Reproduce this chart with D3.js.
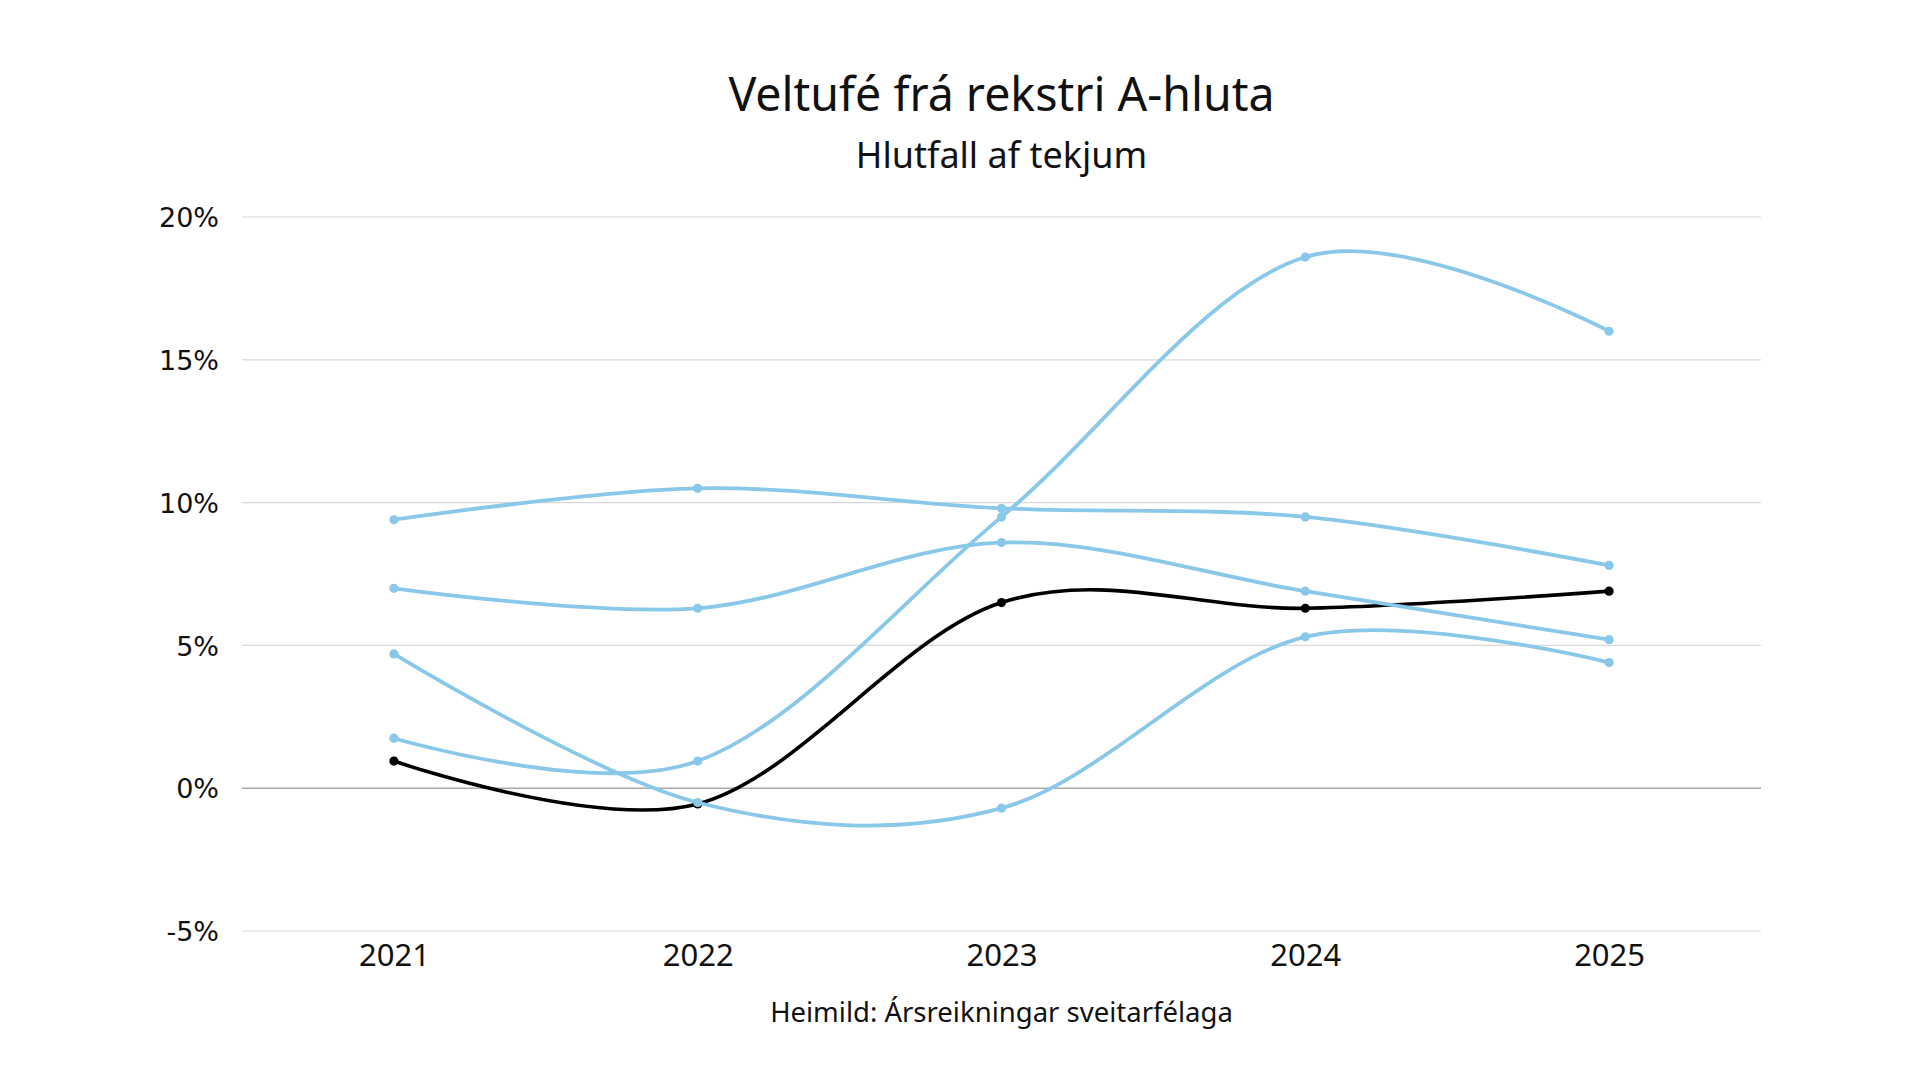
<!DOCTYPE html>
<html><head><meta charset="utf-8">
<script src="https://cdn.jsdelivr.net/npm/d3@7"></script>
<style>html,body{margin:0;padding:0;background:#fff;}</style>
</head><body>
<svg id="chart" width="1920" height="1080"></svg>
<script>
const years = ["2021","2022","2023","2024","2025"];
const yTicks = [-5, 0, 5, 10, 15, 20];
const seriesA = [9.4, 10.5, 9.8, 9.5, 7.8];
const seriesB = [7.0, 6.3, 8.6, 6.9, 5.2];
const seriesC = [4.7, -0.5, -0.7, 5.3, 4.4];
const seriesD = [1.75, 0.95, 9.5, 18.6, 16.0];
const seriesTotal = [0.95, -0.55, 6.5, 6.3, 6.9];
const title = "Veltufé frá rekstri A-hluta";
const subtitle = "Hlutfall af tekjum";
const source = "Heimild: Ársreikningar sveitarfélaga";

(function(){
const blue = "#89C8E9";
const font = "'Noto Sans', sans-serif";
const tickFont = "'DejaVu Sans', sans-serif";
const svg = d3.select("#chart");
const pL = 242, pR = 1761, pT = 217, pB = 931;

const x = d3.scalePoint().domain(years).range([pL, pR]).padding(0.5);
const y = d3.scaleLinear().domain([-5, 20]).range([pB, pT]);

svg.append("g").selectAll("line").data(yTicks).join("line")
  .attr("x1", pL).attr("x2", pR)
  .attr("y1", d => y(d)).attr("y2", d => y(d))
  .attr("stroke", d => d === 0 ? "#a9a9a9" : "#d9d9d9")
  .attr("stroke-width", d => d === 0 ? 1.5 : 1.2);

const yAxis = d3.axisLeft(y).tickValues(yTicks).tickFormat(d => d + "%").tickSize(0).tickPadding(0);
const gy = svg.append("g").attr("transform", `translate(219,0)`).call(yAxis);
gy.select(".domain").remove();
gy.selectAll("text").attr("font-family", tickFont).attr("font-size", 27).attr("fill", "#111").attr("dy", "0.36em");

const xAxis = d3.axisBottom(x).tickSize(0).tickPadding(0);
const gx = svg.append("g").attr("transform", `translate(0,944)`).call(xAxis);
gx.select(".domain").remove();
gx.selectAll("text").attr("font-family", font).attr("font-size", 31).attr("fill", "#111").attr("dy", "0.71em");

const line = d3.line().x((d, i) => x(years[i])).y(d => y(d)).curve(d3.curveCardinal.tension(0));

const all = [
  {vals: seriesTotal, color: "#000", w: 3.6},
  {vals: seriesA, color: blue, w: 3.8},
  {vals: seriesB, color: blue, w: 3.8},
  {vals: seriesC, color: blue, w: 3.8},
  {vals: seriesD, color: blue, w: 3.8}
];
all.forEach(s => {
  svg.append("path").attr("d", line(s.vals)).attr("fill", "none")
    .attr("stroke", s.color).attr("stroke-width", s.w);
  svg.append("g").selectAll("circle").data(s.vals).join("circle")
    .attr("cx", (d, i) => x(years[i])).attr("cy", d => y(d)).attr("r", 4.6)
    .attr("fill", s.color);
});

const cx = (pL + pR) / 2;
svg.append("text").attr("x", cx).attr("y", 111).attr("text-anchor", "middle")
  .attr("font-family", font).attr("font-size", 46.5).attr("fill", "#111").text(title);
svg.append("text").attr("x", cx).attr("y", 168).attr("text-anchor", "middle")
  .attr("font-family", font).attr("font-size", 36).attr("fill", "#111").text(subtitle);
svg.append("text").attr("x", cx).attr("y", 1022).attr("text-anchor", "middle")
  .attr("font-family", font).attr("font-size", 27.5).attr("fill", "#111").text(source);
})();
</script>
</body></html>
